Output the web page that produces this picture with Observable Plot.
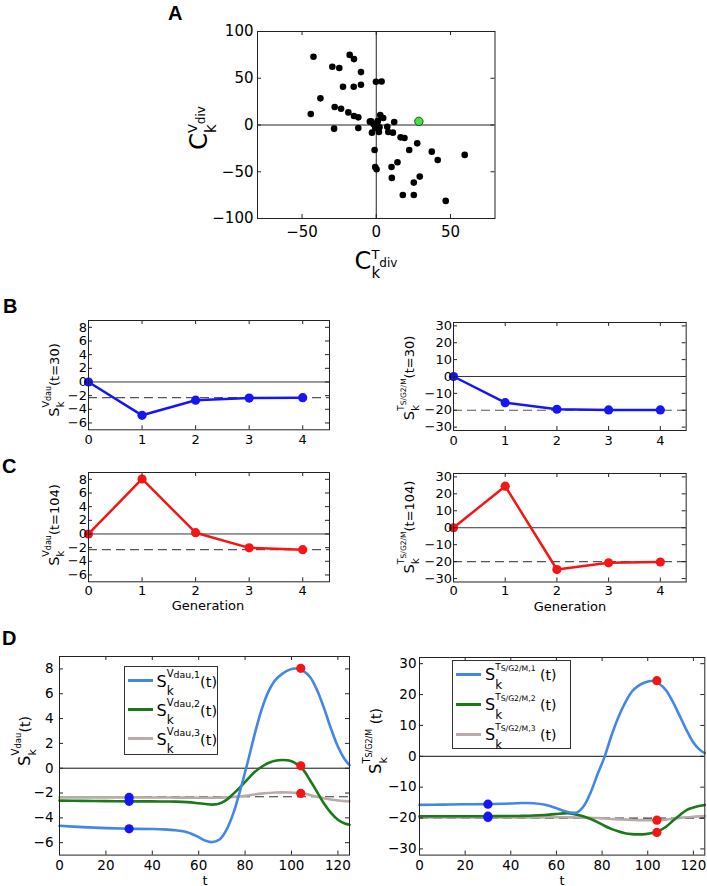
<!DOCTYPE html>
<html><head><meta charset="utf-8">
<script src="https://cdn.jsdelivr.net/npm/d3@7"></script>
<script src="https://cdn.jsdelivr.net/npm/@observablehq/plot@0.6"></script>
<style>
body{margin:0;background:#fff;}
#root{position:relative;width:707px;height:886px;overflow:hidden;font-family:"DejaVu Sans",sans-serif;color:#000;background:#fff;}
#root svg{position:absolute;overflow:visible;}
.txt{position:absolute;white-space:nowrap;line-height:1;font-family:"DejaVu Sans",sans-serif;}
.plab{position:absolute;font-family:"Liberation Sans",Arial,sans-serif;font-weight:bold;font-size:20px;line-height:1;}
.stack{display:inline-grid;line-height:1;vertical-align:baseline;}
.stack>span{grid-area:1/1;white-space:nowrap;line-height:1;}
.leg{position:absolute;border:1px solid #333;background:#fff;box-sizing:border-box;}
.lsw{position:absolute;height:3px;}
</style></head><body><div id="root"></div><script>
// ---------- Panel A data ----------
const cT = [-42.3,-17.9,-15,-29.6,-24.9,-10.3,-0.2,3.6,-22.4,-15.2,-10.3,-37.6,-28,-23.7,-44.1,-18.8,-15,-12.1,2.7,4.7,12.1,-3.4,-2,1.1,-28.4,-12.1,-2.9,1.8,-0.7,7.4,8.1,11.2,16.4,19,27.6,22.2,-1.1,37.4,41.4,59.6,14.3,10.3,-0.7,0.2,29.3,25.3,10.5,17.9,25.3,46.8,-4.3,0.7,2.2];
const cV = [73,75,70.5,62.3,60.9,56.6,46.3,46.6,40.9,40.9,43.1,28.5,19.2,17.4,11.7,13.5,9.6,8.2,10.7,7.5,3.2,3.9,1.1,4.6,-3.9,-3.2,-8.2,-7.5,-3.2,-1.8,-7.5,-8.2,-13.2,-13.9,-19.6,-26.7,-26.7,-28.5,-37.4,-32,-39.9,-44.9,-44.9,-47.3,-55.2,-61.6,-56.6,-74.8,-74.8,-81.2,3.6,2.5,-2.5];
const hiT = [28.7];
const hiV = [3.9];
const aTicksX = [-50,0,50];
const aTicksY = [-100,-50,0,50,100];

// ---------- Panels B / C data ----------
const generations = [0,1,2,3,4];
const vdauT30  = [0,-4.88,-2.67,-2.35,-2.3];
const sg2mT30  = [0,-15.5,-19.4,-19.8,-19.8];
const vdauT104 = [0,8.05,0.19,-2.03,-2.3];
const sg2mT104 = [0,24.5,-24.65,-20.7,-20.2];
const vdauAsym = [-2.3];
const sg2mAsym = [-20];
const vTicks = [-6,-4,-2,0,2,4,6,8];
const tTicks = [-30,-20,-10,0,10,20,30];

// ---------- Panel D data ----------
const tGrid = [0,10,20,30,40,45,50,55,60,63,66,69,72,75,78,81,84,87,90,93,96,99,102,105,108,111,114,117,120,123,125];
const vdau1 = [-4.64,-4.75,-4.83,-4.88,-4.9,-4.93,-5.0,-5.15,-5.55,-5.85,-5.95,-5.75,-4.95,-3.6,-1.7,0.4,2.65,4.65,6.15,7.1,7.6,7.92,8.03,7.85,7.35,6.3,4.85,3.2,1.75,0.7,0.25];
const vdau2 = [-2.61,-2.63,-2.65,-2.67,-2.67,-2.68,-2.69,-2.73,-2.82,-2.88,-2.93,-2.85,-2.55,-2.05,-1.5,-0.9,-0.33,0.1,0.42,0.6,0.66,0.62,0.37,-0.12,-0.97,-1.9,-2.85,-3.6,-4.15,-4.45,-4.55];
const vdau3 = [-2.35,-2.35,-2.35,-2.35,-2.36,-2.36,-2.37,-2.37,-2.38,-2.38,-2.38,-2.37,-2.35,-2.32,-2.27,-2.2,-2.12,-2.05,-2.0,-1.96,-1.95,-1.96,-1.99,-2.05,-2.15,-2.3,-2.42,-2.52,-2.6,-2.65,-2.67];
const sg2m1 = [-15.75,-15.65,-15.55,-15.5,-15.3,-15.15,-15.2,-15.7,-16.8,-17.6,-18.2,-18.2,-16.1,-11.7,-5.8,-0.35,6.5,12.4,17.2,20.9,22.9,24.0,24.4,23.5,21.4,17.6,13.1,8.5,4.5,2.0,1.0];
const sg2m2 = [-19.4,-19.4,-19.4,-19.4,-19.35,-19.3,-19.2,-19.0,-18.7,-18.5,-18.5,-18.9,-19.5,-20.3,-21.3,-22.5,-23.5,-24.3,-24.9,-25.2,-25.3,-25.2,-24.85,-24.1,-22.8,-20.9,-19.1,-17.4,-16.6,-16.0,-15.75];
const sg2m3 = [-19.8,-19.8,-19.8,-19.8,-19.8,-19.8,-19.78,-19.75,-19.75,-19.75,-19.77,-19.8,-19.85,-19.9,-20.0,-20.15,-20.3,-20.42,-20.5,-20.6,-20.67,-20.7,-20.72,-20.68,-20.5,-20.2,-19.95,-19.75,-19.6,-19.45,-19.35];
const tSnap = [30, 104];
const dTicksX = [0,20,40,60,80,100,120];

const C1 = "#4287e6", C2 = "#1a7a1a", C3 = "#b9aba9";
const BLUE = "#1515f5", RED = "#f51515";

const root = document.getElementById("root");
const fmt = d => d < 0 ? "\u2212" + Math.abs(d) : String(d);

function panel({left, top, w, h, xDomain, yDomain, xTicks, yTicks, fontSize, xPad, yPad, marks}) {
  const mL = 50, mR = 10, mT = 10, mB = 30;
  const p = Plot.plot({
    width: w + mL + mR, height: h + mT + mB,
    marginLeft: mL, marginRight: mR, marginTop: mT, marginBottom: mB,
    x: {domain: xDomain}, y: {domain: yDomain},
    style: {fontFamily: '"DejaVu Sans", sans-serif', fontSize: fontSize + "px", color: "#000", background: "transparent", overflow: "visible"},
    marks: [
      ...marks,
      Plot.tickX(xTicks, {x: d => d, insetTop: h - 4, stroke: "#222"}),
      Plot.tickX(xTicks, {x: d => d, insetBottom: h - 4, stroke: "#222"}),
      Plot.tickY(yTicks, {y: d => d, insetRight: w - 4, stroke: "#222"}),
      Plot.tickY(yTicks, {y: d => d, insetLeft: w - 4, stroke: "#222"}),
      Plot.frame({stroke: "#222"}),
      Plot.axisX(xTicks, {tickSize: 0, tickPadding: xPad, tickFormat: fmt, label: null, fontSize}),
      Plot.axisY(yTicks, {tickSize: 0, tickPadding: yPad, tickFormat: fmt, label: null, fontSize})
    ]
  });
  p.style.position = "absolute";
  p.style.left = (left - mL) + "px";
  p.style.top = (top - mT) + "px";
  root.appendChild(p);
}

function addText(html, cx, cy, rotate = false, size = 13) {
  const d = document.createElement("div");
  d.className = "txt";
  d.style.fontSize = size + "px";
  d.innerHTML = html;
  d.style.left = cx + "px";
  d.style.top = cy + "px";
  d.style.transform = "translate(-50%,-50%)" + (rotate ? " rotate(-90deg)" : "");
  root.appendChild(d);
  return d;
}
function addLeft(html, x, cy, size) {
  const d = addText(html, x, cy, false, size);
  d.style.transform = "translate(0,-50%)";
  return d;
}
function math({base = "S", sup, supsub, sub = "k", rest = "", B = 18, S = 10, SS = 9, K = 12, R = 13, raise = 8, lower = 4.5, drop = 2}) {
  return `<span style="font-size:${B}px">${base}</span><span class="stack"><span style="font-size:${S}px;transform:translateY(-${raise}px)">${sup}<span style="font-size:${SS}px;position:relative;top:${drop}px">${supsub}</span></span><span style="font-size:${K}px;transform:translateY(${lower}px)">${sub}</span></span><span style="font-size:${R}px">${rest}</span>`;
}
function plab(t, x, y) {
  const d = document.createElement("div");
  d.className = "plab"; d.textContent = t;
  d.style.left = x + "px"; d.style.top = y + "px";
  root.appendChild(d);
}

// ---------- Panel A ----------
const aData = cT.map((t, i) => ({t, v: cV[i]}));
const hiData = hiT.map((t, i) => ({t, v: hiV[i]}));
panel({left: 256.5, top: 31, w: 237.5, h: 187, xDomain: [-80, 80], yDomain: [-100, 100],
  xTicks: aTicksX, yTicks: aTicksY, fontSize: 15, xPad: 8, yPad: 4,
  marks: [
    Plot.ruleX([0], {stroke: "#222", strokeWidth: 1}),
    Plot.ruleY([0], {stroke: "#222", strokeWidth: 1}),
    Plot.dot(aData, {x: "t", y: "v", r: 3.3, fill: "#000", stroke: "none"}),
    Plot.dot(hiData, {x: "t", y: "v", r: 4.2, fill: "#3fe63f", stroke: "#1b4d1b", strokeWidth: 1})
  ]});

// ---------- Panels B / C ----------
function genPanel(left, top, w, h, vals, asym, yDomain, yTicks, color, yPad, xPad) {
  const data = generations.map((g, i) => ({g, v: vals[i]}));
  panel({left, top, w, h, xDomain: [0, 4.5], yDomain, xTicks: generations, yTicks, fontSize: 13, xPad, yPad,
    marks: [
      Plot.ruleY([0], {stroke: "#333", strokeWidth: 1}),
      Plot.ruleY(asym, {stroke: "#555", strokeWidth: 1.2, strokeDasharray: "9,5"}),
      Plot.line(data, {x: "g", y: "v", stroke: color, strokeWidth: 2.5}),
      Plot.dot(data, {x: "g", y: "v", r: 4.6, fill: color, stroke: "none"})
    ]});
}
genPanel(88.3, 320, 241, 109.3, vdauT30, vdauAsym, [-7, 9], vTicks, BLUE, 1.5, 5);
genPanel(453.3, 322, 232.7, 108, sg2mT30, sg2mAsym, [-32, 32], tTicks, BLUE, 1.5, 5);
genPanel(88.3, 472, 241, 109.3, vdauT104, vdauAsym, [-7, 9], vTicks, RED, 1.5, 4);
genPanel(453.3, 473, 232.7, 108.5, sg2mT104, sg2mAsym, [-32, 32], tTicks, RED, 1.5, 4);

// ---------- Panel D ----------
function timePanel(left, top, w, h, s1, s2, s3, snap30, snap104, asym, yDomain, yTicks, yPad) {
  const mk = arr => tGrid.map((t, i) => ({t, v: arr[i]}));
  const d30 = snap30.map(v => ({t: tSnap[0], v}));
  const d104 = snap104.map(v => ({t: tSnap[1], v}));
  panel({left, top, w, h, xDomain: [0, 125], yDomain, xTicks: dTicksX, yTicks, fontSize: 13.5, xPad: 5, yPad,
    marks: [
      Plot.ruleY([0], {stroke: "#111", strokeWidth: 1}),
      Plot.ruleY(asym, {stroke: "#333", strokeWidth: 1.2, strokeDasharray: "9,5"}),
      Plot.line(mk(s3), {x: "t", y: "v", stroke: C3, strokeWidth: 2.6, curve: "catmull-rom"}),
      Plot.line(mk(s2), {x: "t", y: "v", stroke: C2, strokeWidth: 2.6, curve: "catmull-rom"}),
      Plot.line(mk(s1), {x: "t", y: "v", stroke: C1, strokeWidth: 2.6, curve: "catmull-rom"}),
      Plot.dot(d30, {x: "t", y: "v", r: 4.6, fill: BLUE, stroke: "none"}),
      Plot.dot(d104, {x: "t", y: "v", r: 4.6, fill: RED, stroke: "none"})
    ]});
}
timePanel(59.3, 655.7, 290, 198.6, vdau1, vdau2, vdau3, vdauT30.slice(1, 4), vdauT104.slice(1, 4), vdauAsym, [-7, 9], vTicks, 6);
timePanel(419, 656.7, 285.3, 197.6, sg2m1, sg2m2, sg2m3, sg2mT30.slice(1, 4), sg2mT104.slice(1, 4), sg2mAsym, [-32, 32], tTicks, 3);

// ---------- Panel letters ----------
plab("A", 168, 2.5);
plab("B", 3, 295.5);
plab("C", 2, 455.5);
plab("D", 2, 627.5);

// ---------- Axis labels ----------
const cLab = sup => math({base: "C", sup, supsub: "div", B: 24, S: 13, SS: 12, K: 15, raise: 10, lower: 8, drop: 8});
addText(cLab("V"), 199, 128, true);
addText(cLab("T"), 376, 261, false);

const vL = rest => math({sup: "V", supsub: "dau", rest, B: 14.5, S: 9.5, SS: 8, K: 10.5, R: 13, raise: 10, lower: 4, drop: 1.7});
const tL = rest => math({sup: "T", supsub: "S/G2/M", rest, B: 14.5, S: 9.5, SS: 7.5, K: 10.5, R: 13, raise: 10, lower: 4, drop: 1.7});
addText(vL("(t=30)"), 54, 380, true);
addText(tL("(t=30)"), 409, 378, true);
addText(vL("(t=104)"), 54, 525, true);
addText(tL("(t=104)"), 409, 527, true);
addText("Generation", 208, 605, false, 13);
addText("Generation", 570, 606, false, 13);

addText(math({sup: "V", supsub: "dau", rest: "(t)", B: 16.5, S: 10, SS: 8.5, K: 11, R: 14, raise: 11, lower: 5, drop: 1.5}), 25, 741, true);
addText(math({sup: "T", supsub: "S/G2/M", rest: " (t)", B: 16.5, S: 10, SS: 8, K: 11, R: 14, raise: 11, lower: 5, drop: 1.5}), 376, 741, true);
addText("t", 205, 879.5, false, 13);
addText("t", 562, 879.5, false, 13);

// ---------- Legends (panel D) ----------
function legend(bx, by, bw, bh, lineX, textX, rows, labels) {
  const b = document.createElement("div");
  b.className = "leg";
  Object.assign(b.style, {left: bx + "px", top: by + "px", width: bw + "px", height: bh + "px"});
  root.appendChild(b);
  const cols = [C1, C2, C3];
  rows.forEach((y, i) => {
    const s = document.createElement("div");
    s.className = "lsw";
    Object.assign(s.style, {left: lineX + "px", top: (y - 1.5) + "px", width: "25px", background: cols[i]});
    root.appendChild(s);
    addLeft(labels[i], textX, y + 1.5, 16);
  });
}
legend(124.3, 666, 93.4, 89, 128, 156.5, [680, 709, 738],
  [1, 2, 3].map(n => math({sup: "V", supsub: "dau," + n, rest: "(t)", B: 16, S: 10, SS: 9.4, K: 12, R: 14.5, raise: 9.7, lower: 6, drop: 1})));
legend(452.3, 660, 118.7, 89.3, 456, 485, [674.5, 704.5, 734.5],
  [1, 2, 3].map(n => math({sup: "T", supsub: "S/G2/M," + n, rest: " (t)", B: 16, S: 9, SS: 7.7, K: 12, R: 14, raise: 9.7, lower: 6, drop: 1})));
</script></body></html>
